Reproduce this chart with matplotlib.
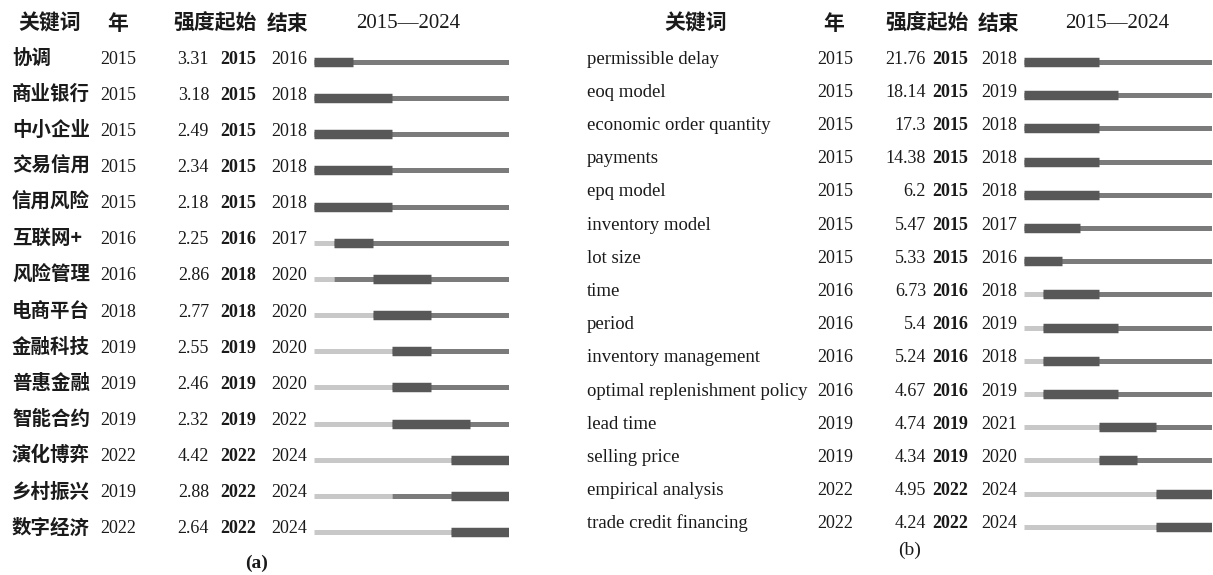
import matplotlib
matplotlib.use("Agg")
import matplotlib.pyplot as plt
from matplotlib.transforms import blended_transform_factory

# (a) 中文关键词突现
kw_a = ["协调", "商业银行", "中小企业", "交易信用", "信用风险", "互联网+", "风险管理",
        "电商平台", "金融科技", "普惠金融", "智能合约", "演化博弈", "乡村振兴", "数字经济"]
year_a = [2015, 2015, 2015, 2015, 2015, 2016, 2016, 2018, 2019, 2019, 2019, 2022, 2019, 2022]
strength_a = ["3.31", "3.18", "2.49", "2.34", "2.18", "2.25", "2.86", "2.77", "2.55", "2.46",
              "2.32", "4.42", "2.88", "2.64"]
begin_a = [2015, 2015, 2015, 2015, 2015, 2016, 2018, 2018, 2019, 2019, 2019, 2022, 2022, 2022]
end_a = [2016, 2018, 2018, 2018, 2018, 2017, 2020, 2020, 2020, 2020, 2022, 2024, 2024, 2024]

# (b) 英文关键词突现
kw_b = ["permissible delay", "eoq model", "economic order quantity", "payments", "epq model",
        "inventory model", "lot size", "time", "period", "inventory management",
        "optimal replenishment policy", "lead time", "selling price", "empirical analysis",
        "trade credit financing"]
year_b = [2015, 2015, 2015, 2015, 2015, 2015, 2015, 2016, 2016, 2016, 2016, 2019, 2019, 2022, 2022]
strength_b = ["21.76", "18.14", "17.3", "14.38", "6.2", "5.47", "5.33", "6.73", "5.4", "5.24",
              "4.67", "4.74", "4.34", "4.95", "4.24"]
begin_b = [2015, 2015, 2015, 2015, 2015, 2015, 2015, 2016, 2016, 2016, 2016, 2019, 2019, 2022, 2022]
end_b = [2018, 2019, 2018, 2018, 2018, 2017, 2016, 2018, 2019, 2018, 2019, 2021, 2020, 2024, 2024]

y_first, y_last = 2015, 2024

W, H = 1213, 575
fig = plt.figure(figsize=(W / 100, H / 100), dpi=100)

SERIF = "Liberation Serif"
CJK = "Noto Sans CJK SC"
INK = "#1a1a1a"
LIGHT, MID, DARK = "#c8c8c8", "#7b7b7b", "#585858"


def fx(px):
    return px / W


def fy(px):
    return 1 - px / H


def panel(kw, yr, st, bg, ed, bar_x, bar_w, top, step, cols, kw_style):
    n = len(kw)
    top_px = top - step / 2
    h_px = n * step
    ax = fig.add_axes([fx(bar_x), fy(top_px + h_px), bar_w / W, h_px / H])
    ax.set_xlim(y_first, y_last + 1)
    ax.set_ylim(n - 0.5, -0.5)
    ax.axis("off")
    for i in range(n):
        ax.hlines(i, y_first, yr[i], color=LIGHT, lw=3.6, capstyle="butt")
        ax.hlines(i, yr[i], y_last + 1, color=MID, lw=3.6, capstyle="butt")
        ax.hlines(i, bg[i], ed[i] + 1, color=DARK, lw=6.8, capstyle="butt")
    tr = blended_transform_factory(fig.transFigure, ax.transData)
    off = 1.5 / step
    num = dict(transform=tr, va="baseline", family=SERIF, fontsize=13, color=INK)
    for i in range(n):
        y = i + off
        ax.text(fx(cols["kw"]), y, kw[i], transform=tr, ha="left", va="baseline",
                color=INK, **kw_style)
        ax.text(fx(cols["year"]), y, str(yr[i]), ha="left", **num)
        ax.text(fx(cols["st"]), y, st[i], ha="right", **num)
        ax.text(fx(cols["bg"]), y, str(bg[i]), ha="center", fontweight="bold", **num)
        ax.text(fx(cols["ed"]), y, str(ed[i]), ha="center", **num)
    return ax


panel(kw_a, year_a, strength_a, begin_a, end_a, 314, 195, 62, 36.15,
      {"kw": 12, "year": 100, "st": 209, "bg": 238, "ed": 289},
      dict(family=[CJK, "DejaVu Sans"], fontsize=14, fontweight="bold"))
panel(kw_b, year_b, strength_b, begin_b, end_b, 1024, 188, 62, 33.2,
      {"kw": 587, "year": 817, "st": 926, "bg": 950, "ed": 999},
      dict(family=SERIF, fontsize=13.5))

# 表头
hdr = dict(va="center", fontsize=15, color=INK)
for cx, label in [(50, "关键词"), (118, "年"), (215, "强度起始"), (288, "结束"),
                  (696, "关键词"), (834, "年"), (927, "强度起始"), (999, "结束")]:
    fig.text(fx(cx), fy(23), label, ha="center", family=CJK, fontweight="bold", **hdr)
for cx in [408, 1117]:
    fig.text(fx(cx), fy(23), f"{y_first}—{y_last}", ha="center", family=SERIF, **hdr)

fig.text(fx(257), fy(563), "(a)", ha="center", va="center", family=SERIF, fontsize=14,
         fontweight="bold", color=INK)
fig.text(fx(910), fy(550), "(b)", ha="center", va="center", family=SERIF, fontsize=14,
         color=INK)

fig.savefig("out.png", dpi=100, facecolor="white")
